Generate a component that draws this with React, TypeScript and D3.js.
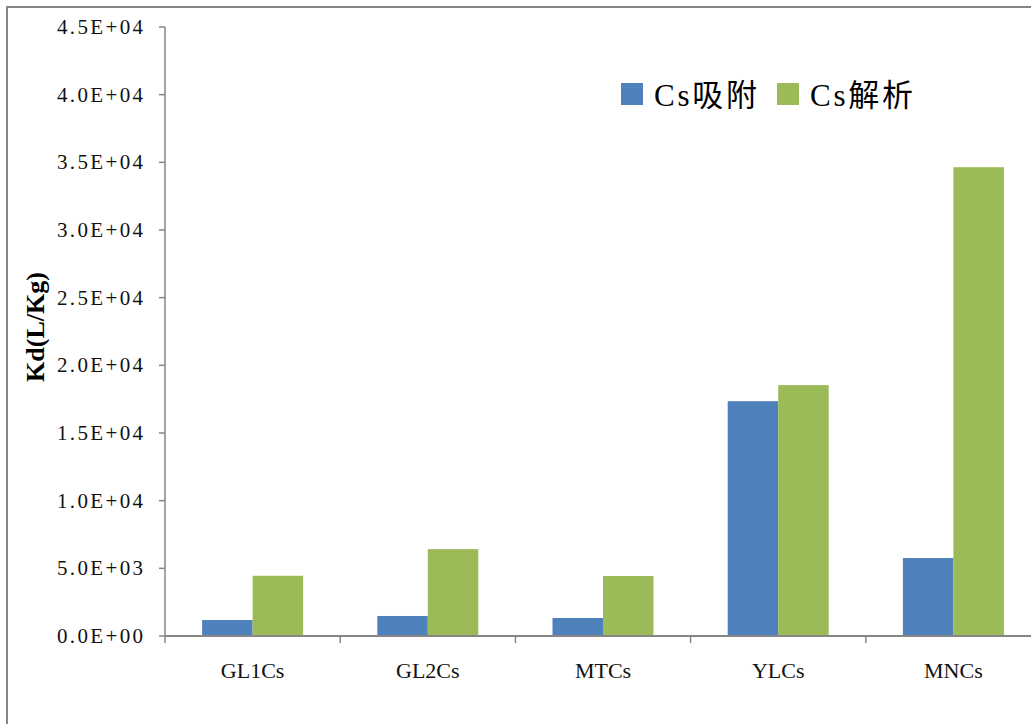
import * as d3 from 'd3'

const categories = ['GL1Cs', 'GL2Cs', 'MTCs', 'YLCs', 'MNCs']
const adsorption = [1180, 1480, 1330, 17350, 5760]
const desorption = [4450, 6420, 4430, 18540, 34640]
const seriesNames = ['Cs吸附', 'Cs解析']
const seriesColors = ['#4F81BD', '#9BBB59']
const yTicks = [0, 5000, 10000, 15000, 20000, 25000, 30000, 35000, 40000, 45000]
const yTickLabels = ['0.0E+00', '5.0E+03', '1.0E+04', '1.5E+04', '2.0E+04', '2.5E+04', '3.0E+04', '3.5E+04', '4.0E+04', '4.5E+04']

const W = 1031
const H = 724
const axisColor = '#868686'
const serif = "'Liberation Serif', 'DejaVu Serif', serif"

export default function App() {
  const x = d3.scaleBand().domain(categories).range([165, 165 + 5 * 175.2])
  const y = d3.scaleLinear().domain([0, 45000]).range([636, 27])
  const barW = 50.5
  const series = [adsorption, desorption]

  return (
    <svg width={W} height={H} style={{ position: 'absolute', left: 0, top: 0, background: '#fff' }}>
      {/* outer frame */}
      <rect x={7} y={7} width={W + 20} height={H + 20} fill="#fff" stroke={axisColor} strokeWidth={2} />

      {/* bars */}
      {categories.map((c, i) => {
        const cx = (x(c) || 0) + x.bandwidth() / 2
        return series.map((s, j) => (
          <rect
            key={c + j}
            x={cx - barW + j * barW}
            y={y(s[i])}
            width={barW}
            height={y(0) - y(s[i])}
            fill={seriesColors[j]}
          />
        ))
      })}

      {/* y axis */}
      <line x1={165} x2={165} y1={y(45000)} y2={y(0)} stroke={axisColor} strokeWidth={1.5} />
      {yTicks.map((t, i) => (
        <g key={t}>
          <line x1={159} x2={165} y1={y(t)} y2={y(t)} stroke={axisColor} strokeWidth={1.5} />
          <text
            x={143}
            y={y(t)}
            textAnchor="end"
            dominantBaseline="central"
            fontFamily={serif}
            fontSize={21}
            fill="#111"
            textLength={86}
            lengthAdjust="spacing"
          >
            {yTickLabels[i]}
          </text>
        </g>
      ))}

      {/* x axis */}
      <line x1={165} x2={W + 10} y1={y(0)} y2={y(0)} stroke={axisColor} strokeWidth={2} />
      {d3.range(categories.length + 1).map(i => (
        <line key={i} x1={165 + i * x.step()} x2={165 + i * x.step()} y1={y(0)} y2={y(0) + 7} stroke={axisColor} strokeWidth={1.5} />
      ))}
      {categories.map(c => (
        <text
          key={c}
          x={(x(c) || 0) + x.bandwidth() / 2}
          y={670}
          textAnchor="middle"
          dominantBaseline="central"
          fontFamily={serif}
          fontSize={22}
          fill="#111"
        >
          {c}
        </text>
      ))}

      {/* y title */}
      <text
        transform="translate(35,327) rotate(-90)"
        textAnchor="middle"
        dominantBaseline="central"
        fontFamily="'Liberation Serif', serif"
        fontWeight="bold"
        fontSize={26}
        fill="#000"
      >
        Kd(L/Kg)
      </text>

      {/* legend */}
      {seriesNames.map((n, j) => (
        <g key={n} transform={`translate(${621 + j * 156},83)`}>
          <rect x={0} y={0} width={22} height={22} fill={seriesColors[j]} />
          <text
            x={33}
            y={12}
            dominantBaseline="central"
            fontFamily="'Liberation Serif', 'Noto Sans CJK SC', serif"
            fontSize={31}
            fill="#000"
            textLength={103}
            lengthAdjust="spacing"
          >
            {n}
          </text>
        </g>
      ))}
    </svg>
  )
}
